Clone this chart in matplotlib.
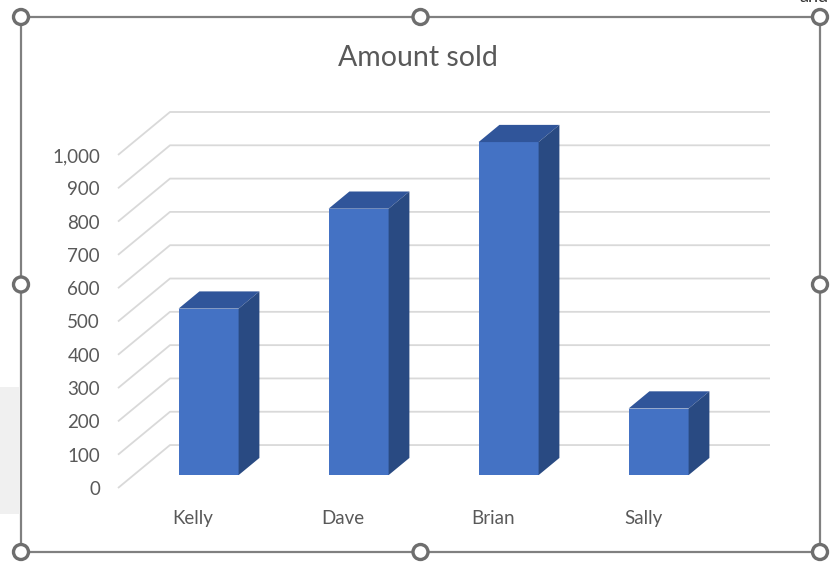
import matplotlib
matplotlib.use("Agg")
import matplotlib.pyplot as plt
import numpy as np
from matplotlib.patches import Polygon, Circle, Rectangle

# ---- data ----
categories = ["Kelly", "Dave", "Brian", "Sally"]
amounts = [500, 800, 1000, 200]
y_ticks = list(range(0, 1001, 100))
title = "Amount sold"

# ---- figure ----
W, H, DPI = 833, 569, 100
plt.rcParams['font.family'] = ['Lato', 'DejaVu Sans']
fig = plt.figure(figsize=(W / DPI, H / DPI), dpi=DPI)
fig.patch.set_facecolor("white")

TEXT = "#595959"
GRID = "#d9d9d9"
FRONT = "#4472c4"
TOP = "#30559a"
SIDE = "#294a82"

# oblique depth of the 3-D box (in data units) and the slab a bar occupies
DEPTH_DX = 52 / 150
DEPTH_DY = 129
D_FRONT, D_BACK = 0.3, 0.7
BAR_W = 0.4

n = len(categories)
xs = np.arange(n)

ax = fig.add_axes([118 / W, (H - 488) / H, (770 - 118) / W, (488 - 112) / H])
ax.set_xlim(-0.5, n - 0.5 + DEPTH_DX)
ax.set_ylim(0, y_ticks[-1] + DEPTH_DY)
ax.patch.set_alpha(0)
for s in ax.spines.values():
    s.set_visible(False)

# side-wall / back-wall gridlines
for v in y_ticks:
    ax.plot([-0.5, -0.5 + DEPTH_DX, n - 0.5 + DEPTH_DX],
            [v, v + DEPTH_DY, v + DEPTH_DY],
            color=GRID, lw=1.3, zorder=1, clip_on=False, solid_capstyle="butt")

# bars: front face through ax.bar, top and side faces as oblique polygons
b0 = D_FRONT * DEPTH_DY
ddx = (D_BACK - D_FRONT) * DEPTH_DX
ddy = (D_BACK - D_FRONT) * DEPTH_DY
front_x = xs + D_FRONT * DEPTH_DX
ax.bar(front_x, amounts, width=BAR_W, bottom=b0, color=FRONT, zorder=3)
for fx, v in zip(front_x, amounts):
    xl, xr = fx - BAR_W / 2, fx + BAR_W / 2
    top = [(xl, v + b0), (xr, v + b0), (xr + ddx, v + b0 + ddy), (xl + ddx, v + b0 + ddy)]
    side = [(xr, b0), (xr, v + b0), (xr + ddx, v + b0 + ddy), (xr + ddx, b0 + ddy)]
    ax.add_patch(Polygon(top, closed=True, facecolor=TOP, edgecolor="none", zorder=3))
    ax.add_patch(Polygon(side, closed=True, facecolor=SIDE, edgecolor="none", zorder=3))

ax.set_yticks(y_ticks, labels=[f"{v:,}" for v in y_ticks])
ax.set_xticks(xs, labels=categories)
ax.tick_params(axis="y", length=0, pad=13, labelsize=13.5, labelcolor=TEXT)
ax.tick_params(axis="x", length=0, pad=15.5, labelsize=13.5, labelcolor=TEXT)

fig.text(418 / W, 1 - 57.5 / H, title, ha="center", va="center",
         fontsize=20.5, color=TEXT)

# ---- selection frame with handles ----
ov = fig.add_axes([0, 0, 1, 1], zorder=10)
ov.set_xlim(0, W)
ov.set_ylim(H, 0)
ov.axis("off")
ov.patch.set_alpha(0)
ov.add_patch(Rectangle((0, 387), 19, 127, facecolor="#f0f0f0", edgecolor="none", zorder=0))
fl, ft, fr, fb = 21, 17, 820, 552
ov.plot([fl, fr, fr, fl, fl], [ft, ft, fb, fb, ft], color="#808080", lw=1.6, zorder=1)
mx, my = (fl + fr) / 2, (ft + fb) / 2
for hx, hy in [(fl, ft), (mx, ft), (fr, ft), (fl, my), (fr, my), (fl, fb), (mx, fb), (fr, fb)]:
    ov.add_patch(Circle((hx, hy), 7.5, facecolor="white", edgecolor="#6e6e6e", lw=2.4, zorder=2))

fig.text(799 / W, 1 - 1.5 / H, "and", fontsize=13, color="#333333", va="baseline")

fig.savefig("out.png", dpi=DPI)
